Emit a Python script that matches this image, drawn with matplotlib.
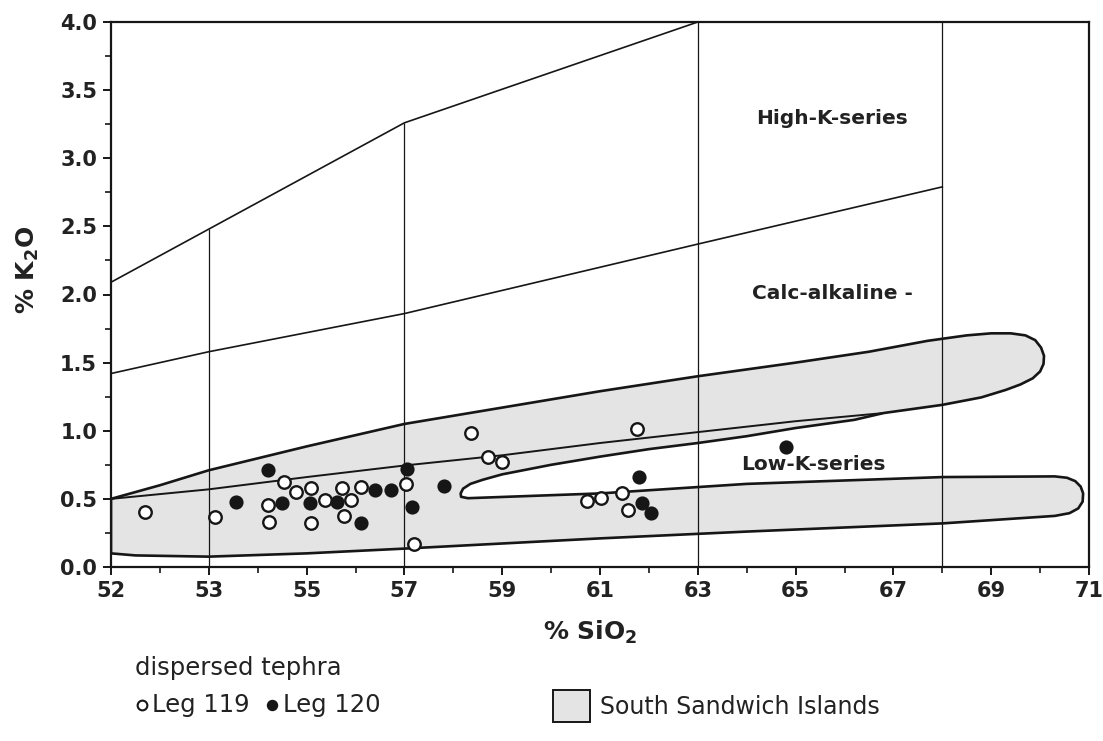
import matplotlib
matplotlib.use("Agg")
import matplotlib.pyplot as plt
from matplotlib.patches import Polygon, Rectangle
from matplotlib.lines import Line2D

plt.rcParams['font.family'] = ['DejaVu Sans']
plt.rcParams['mathtext.default'] = 'bf'

# ---------------- data ----------------
# x-axis: linear SiO2 scale; the first tick is printed as "52" in the original
xtick_pos = [51, 53, 55, 57, 59, 61, 63, 65, 67, 69, 71]
xtick_labels = ["52", "53", "55", "57", "59", "61", "63", "65", "67", "69", "71"]
ytick_pos = [0.0, 0.5, 1.0, 1.5, 2.0, 2.5, 3.0, 3.5, 4.0]

# dispersed tephra, Leg 119 (open circles)
leg119_sio2 = [51.70, 53.12, 54.21, 54.24, 54.54, 54.79, 55.09, 55.09, 55.38, 55.72,
               55.76, 55.90, 56.11, 57.03, 57.20, 58.36, 58.70, 58.99, 60.73, 61.03,
               61.45, 61.57, 61.75]
leg119_k2o = [0.405, 0.37, 0.455, 0.33, 0.625, 0.55, 0.58, 0.32, 0.49, 0.58,
              0.375, 0.49, 0.59, 0.61, 0.17, 0.98, 0.81, 0.77, 0.486, 0.51,
              0.545, 0.42, 1.01]

# dispersed tephra, Leg 120 (filled circles)
leg120_sio2 = [53.55, 54.21, 54.49, 55.06, 55.63, 56.11, 56.40, 56.72, 57.06, 57.15,
               57.81, 61.79, 61.86, 62.05, 64.81]
leg120_k2o = [0.48, 0.71, 0.47, 0.47, 0.48, 0.32, 0.565, 0.565, 0.72, 0.44,
              0.594, 0.66, 0.467, 0.40, 0.88]

# series boundary lines
highk_x = [51, 53, 57, 63]
highk_y = [2.09, 2.48, 3.26, 4.0]
calc_x = [51, 53, 57, 63, 68]
calc_y = [1.42, 1.58, 1.86, 2.37, 2.79]
lowk_x = [51, 53, 55, 57, 59, 61, 63, 65, 66.8]
lowk_y = [0.50, 0.57, 0.66, 0.745, 0.82, 0.91, 0.99, 1.07, 1.13]
vline_x = [53, 57, 63, 68]
vline_top = [2.48, 3.26, 4.0, 4.0]

# South Sandwich Islands field outline
ssi_x = [51, 52, 53, 55, 57, 59, 61, 63, 65, 66.5, 67.7, 68.5, 69.0, 69.4, 69.7, 69.9,
         70.02, 70.08, 70.07, 70.0, 69.85, 69.6, 69.3, 68.8, 68.0, 66.8, 66.2, 65, 64,
         63, 62, 61, 60, 59, 58.6, 58.35, 58.2, 58.15, 58.16, 58.3, 61, 64, 68, 70.3,
         70.55, 70.72, 70.83, 70.88, 70.87, 70.78, 70.6, 70.3, 68, 64, 61, 57, 55, 53,
         51.5, 51]
ssi_y = [0.50, 0.60, 0.71, 0.885, 1.05, 1.17, 1.29, 1.40, 1.50, 1.58, 1.66, 1.70, 1.715,
         1.715, 1.70, 1.665, 1.61, 1.55, 1.49, 1.435, 1.385, 1.34, 1.30, 1.245, 1.19,
         1.13, 1.08, 1.02, 0.96, 0.91, 0.865, 0.81, 0.75, 0.68, 0.64, 0.61, 0.575, 0.54,
         0.515, 0.505, 0.54, 0.61, 0.66, 0.665, 0.655, 0.63, 0.59, 0.54, 0.48, 0.43,
         0.395, 0.375, 0.32, 0.26, 0.21, 0.135, 0.10, 0.076, 0.085, 0.10]

series_labels = ["High-K-series", "Calc-alkaline -", "Low-K-series"]
series_label_x = [65.74, 65.76, 65.37]
series_label_y = [3.29, 2.01, 0.75]

# ---------------- figure ----------------
W, H = 1103, 741
fig = plt.figure(figsize=(W / 100, H / 100), dpi=100)
fig.patch.set_facecolor('white')
ax = fig.add_axes([111 / W, 1 - 567 / H, (1089 - 111) / W, (567 - 22) / H])
ax.set_xlim(51, 71)
ax.set_ylim(0, 4)

ink = '#161616'
fill = '#e4e4e4'

# field
ax.add_patch(Polygon(list(zip(ssi_x, ssi_y)), closed=True, facecolor=fill,
                     edgecolor=ink, linewidth=1.9, joinstyle='round', zorder=2))

# boundary lines
ax.plot(highk_x, highk_y, color=ink, lw=1.2, zorder=3)
ax.plot(calc_x, calc_y, color=ink, lw=1.2, zorder=3)
ax.plot(lowk_x, lowk_y, color=ink, lw=1.4, zorder=3)
ax.vlines(vline_x, 0, vline_top, color=ink, lw=0.9, zorder=3)

# data
ax.plot(leg119_sio2, leg119_k2o, 'o', ms=9, mfc='white', mec=ink, mew=1.7, zorder=5)
ax.plot(leg120_sio2, leg120_k2o, 'o', ms=9, mfc=ink, mec=ink, mew=1.2, zorder=5)

# series labels
for t, x, y in zip(series_labels, series_label_x, series_label_y):
    ax.text(x, y, t, ha='center', va='center', fontsize=14.5, fontweight='bold',
            color='#222222', zorder=6)

# axes styling
for s in ax.spines.values():
    s.set_linewidth(1.6)
    s.set_color(ink)
ax.set_xticks(xtick_pos)
ax.set_xticklabels(xtick_labels)
ax.set_xticks(list(range(52, 71, 2)), minor=True)
ax.set_yticks(ytick_pos)
ax.set_yticklabels([f"{v:.1f}" for v in ytick_pos])
ax.set_yticks([0.25 + 0.5 * i for i in range(8)], minor=True)
ax.tick_params(which='major', direction='out', length=6, width=1.4, color=ink,
               labelsize=15, pad=4)
ax.tick_params(which='minor', direction='out', length=4.5, width=1.2, color=ink)
for lab in ax.get_xticklabels() + ax.get_yticklabels():
    lab.set_fontweight('bold')
    lab.set_color('#222222')

ax.text(0.49, -0.12, '% SiO$_2$', transform=ax.transAxes, ha='center', va='center',
        fontsize=18, fontweight='bold', color='#222222')
ax.text(-0.085, 0.545, '% K$_2$O', transform=ax.transAxes, ha='center', va='center',
        rotation=90, fontsize=18, fontweight='bold', color='#222222')

# legend block
fig.text(135 / W, 1 - 668 / H, 'dispersed tephra', ha='left', va='center',
         fontsize=17.5, color='#222222')
fig.add_artist(Line2D([142 / W], [1 - 705 / H], marker='o', ms=7, mfc='white',
                      mec=ink, mew=1.5, transform=fig.transFigure))
fig.text(152 / W, 1 - 705 / H, 'Leg 119', ha='left', va='center',
         fontsize=17.5, color='#222222')
fig.add_artist(Line2D([272 / W], [1 - 705 / H], marker='o', ms=7, mfc=ink,
                      mec=ink, mew=1.2, transform=fig.transFigure))
fig.text(283 / W, 1 - 705 / H, 'Leg 120', ha='left', va='center',
         fontsize=17.5, color='#222222')
fig.add_artist(Rectangle((553 / W, 1 - 722 / H), 37 / W, 32 / H, facecolor=fill,
                         edgecolor=ink, lw=1.4, transform=fig.transFigure))
fig.text(600 / W, 1 - 707 / H, 'South Sandwich Islands', ha='left', va='center',
         fontsize=17, color='#222222')

fig.savefig('out.png', dpi=100, facecolor='white')
